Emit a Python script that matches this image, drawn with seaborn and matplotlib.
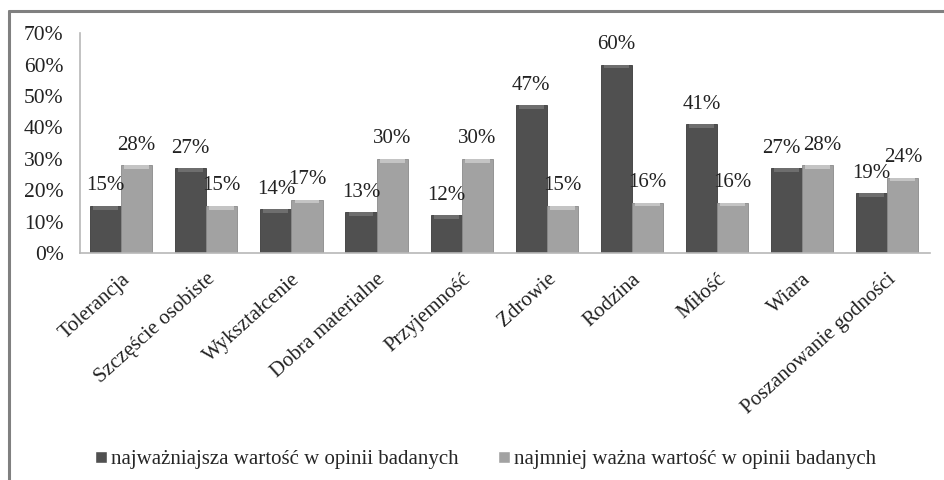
import pandas as pd
import matplotlib
matplotlib.use("Agg")
import matplotlib.pyplot as plt
from matplotlib.patches import Rectangle
from matplotlib.lines import Line2D
import seaborn as sns

# Data
categories = ["Tolerancja", "Szczęście osobiste", "Wykształcenie", "Dobra materialne",
              "Przyjemność", "Zdrowie", "Rodzina", "Miłość", "Wiara", "Poszanowanie godności"]
most_important = [15, 27, 14, 13, 12, 47, 60, 41, 27, 19]
least_important = [28, 15, 17, 30, 30, 15, 16, 16, 28, 24]
series_names = ["najważniajsza wartość w opinii badanych",
                "najmniej ważna wartość w opinii badanych"]

df = pd.DataFrame({
    "kategoria": categories * 2,
    "wartosc": most_important + least_important,
    "seria": [series_names[0]] * len(categories) + [series_names[1]] * len(categories),
})

sns.set_style("white")
plt.rcParams["font.family"] = ["Liberation Serif", "DejaVu Serif"]

dark = "#505050"
light = "#a2a2a2"

fig = plt.figure(figsize=(9.45, 4.8), dpi=100)
ax = fig.add_axes([0.085, 0.473, 0.899, 0.458])

sns.barplot(data=df, x="kategoria", y="wartosc", hue="seria", palette=[dark, light],
            width=0.73, gap=0, saturation=1, ax=ax, legend=True)

# bevel look: darker edge + lighter band on top of every bar
pad = 7.5
for container, col, top in zip(ax.containers, [dark, light], ["#6e6e6e", "#c4c4c4"]):
    for p in container.patches:
        p.set_edgecolor("#3a3a3a" if col == dark else "#8a8a8a")
        p.set_linewidth(0.6)
        h = min(1.2, p.get_height() * 0.3)
        ax.add_patch(Rectangle((p.get_x() + p.get_width() * 0.1, p.get_height() - h),
                               p.get_width() * 0.8, h, facecolor=top,
                               edgecolor="none", zorder=p.get_zorder() + 0.1))
    labels = ax.bar_label(container, fmt="%d%%", padding=pad, fontsize=15, color="#222222")
    # Wiara labels sit almost on top of each other, push them a little apart
    i = categories.index("Wiara")
    labels[i].xyann = (-3.5 if col == dark else 3.5, pad)

ax.set_ylim(0, 70)
ax.set_yticks(range(0, 71, 10))
ax.set_yticklabels([f"{v}%" for v in range(0, 71, 10)], fontsize=15.5, color="#222222")
ax.set_xlabel("")
ax.set_ylabel("")
ax.tick_params(axis="y", length=0, pad=12)
ax.tick_params(axis="x", length=0, pad=12)
plt.setp(ax.get_xticklabels(), rotation=42, ha="right", rotation_mode="anchor",
         fontsize=15, color="#222222")
ax.set_xlim(-0.48, len(categories) - 0.5)

for side in ["top", "right"]:
    ax.spines[side].set_visible(False)
for side in ["left", "bottom"]:
    ax.spines[side].set_color("#b8b8b8")
    ax.spines[side].set_linewidth(1.2)

handles, labels = ax.get_legend_handles_labels()
ax.legend_.remove()
fig.legend(handles, labels, loc="center", bbox_to_anchor=(0.514, 0.042), ncol=2,
           frameon=False, fontsize=15, handlelength=0.55, handleheight=0.55,
           handletextpad=0.2, columnspacing=1.9)

# frame around the chart (top and left edges visible)
fig.add_artist(Line2D([0.0095, 0.0095], [0, 0.977], color="#808080", linewidth=2.2,
                      transform=fig.transFigure))
fig.add_artist(Line2D([0.0095, 1], [0.977, 0.977], color="#808080", linewidth=2.2,
                      transform=fig.transFigure))

fig.savefig("out.png", dpi=100)
